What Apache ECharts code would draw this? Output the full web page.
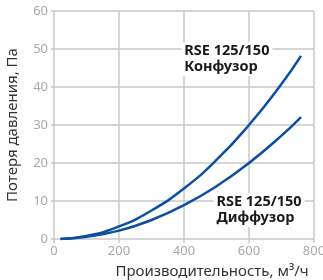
<!DOCTYPE html>
<html><head><meta charset="utf-8">
<script src="https://cdn.jsdelivr.net/npm/echarts@6/dist/echarts.min.js"></script>
<style>html,body{margin:0;padding:0;background:#fff}#c{width:323px;height:280px}</style>
</head><body><div id="c"></div>
<script>
const flow = [20, 100, 200, 300, 400, 500, 600, 700, 760];
const konfuzor = [0.03, 0.8, 3.3, 7.5, 13.3, 20.8, 30, 40.8, 48.2];
const diffuzor = [0.02, 0.6, 2.2, 5.0, 8.9, 13.9, 20, 27.2, 32.1];
const xTicks = [0, 200, 400, 600, 800];
const yTicks = [0, 10, 20, 30, 40, 50, 60];
const labelKonf = 'RSE 125/150\nКонфузор';
const labelDiff = 'RSE 125/150\nДиффузор';

const FONT = '"Noto Sans", sans-serif';
const BLUE = '#0b4ea2';
const chart = echarts.init(document.getElementById('c'));
function lbl(text, coord){
  return {
    symbol: 'rect', symbolSize: 1,
    itemStyle: {color: 'rgba(0,0,0,0)'},
    data: [{coord: coord, value: 1}],
    label: {
      show: true, position: 'right', distance: 0, formatter: text,
      align: 'left', verticalAlign: 'middle',
      color: '#1a1a1a', fontFamily: FONT, fontWeight: 'bold', fontSize: 14.5, lineHeight: 16,
      backgroundColor: '#fff', padding: [1, 3, 1, 3]
    }
  };
}
chart.setOption({
  animation: false,
  grid: {left: 54, right: 9, top: 11, bottom: 41, outerBoundsMode: 'none', containLabel: false},
  xAxis: {
    type: 'value', min: 0, max: 800, interval: 200,
    axisLine: {show: false},
    axisTick: {show: true, length: 4, lineStyle: {color: '#c8c8c8', width: 1.5}},
    splitLine: {lineStyle: {color: '#c8c8c8', width: 1.5}},
    axisLabel: {color: '#a8a8a8', fontFamily: FONT, fontSize: 13, margin: 6,
      formatter: v => xTicks.includes(v) ? String(v) : ''},
    name: 'Производительность, м³/ч', nameLocation: 'middle', nameGap: 25,
    nameTextStyle: {color: '#333', fontFamily: FONT, fontSize: 15, padding: [0, 0, 0, 56]}
  },
  yAxis: {
    type: 'value', min: 0, max: 60, interval: 10,
    axisLine: {show: false},
    axisTick: {show: true, length: 3, lineStyle: {color: '#c8c8c8', width: 1.5}},
    splitLine: {lineStyle: {color: '#c8c8c8', width: 1.5}},
    axisLabel: {color: '#a8a8a8', fontFamily: FONT, fontSize: 13, margin: 6,
      formatter: v => yTicks.includes(v) ? String(v) : ''},
    name: 'Потеря давления, Па', nameLocation: 'middle', nameGap: 34,
    nameTextStyle: {color: '#333', fontFamily: FONT, fontSize: 15}
  },
  series: [
    {type: 'line', smooth: true, showSymbol: false, symbol: 'none',
     lineStyle: {color: BLUE, width: 2.5},
     data: flow.map((x, i) => [x, konfuzor[i]]),
     markPoint: lbl(labelKonf, [390, 47.3]), z: 3},
    {type: 'line', smooth: true, showSymbol: false, symbol: 'none',
     lineStyle: {color: BLUE, width: 2.5},
     data: flow.map((x, i) => [x, diffuzor[i]]),
     markPoint: lbl(labelDiff, [489, 7.7]), z: 3}
  ]
});
</script></body></html>
